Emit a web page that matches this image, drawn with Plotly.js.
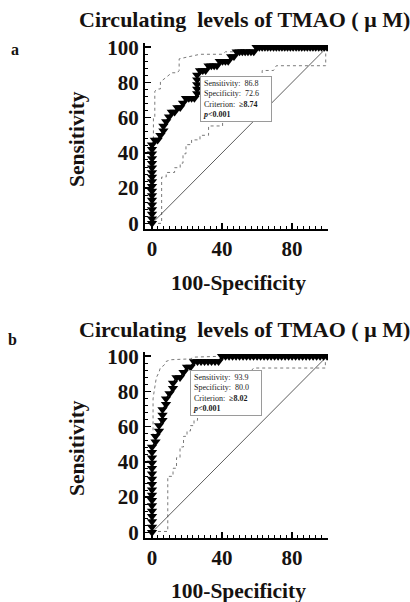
<!DOCTYPE html>
<html><head><meta charset="utf-8">
<script src="https://cdn.plot.ly/plotly-3.0.1.min.js"></script>
<style>html,body{margin:0;padding:0;background:#fff;}#chart{width:410px;height:602px;}</style>
</head><body><div id="chart"></div>
<script>
// ---------- Panel a data ----------
const aRocX = [0,0,0,0,0,0,0,0,0,0,0,0,0,0,0,0,0,0,
  1.6,3.2,4.8,6.5,6.5,8.1,9.7,11.3,12.9,14.5,16.1,17.7,19.4,21.0,22.6,24.2,
  25.8,25.8,25.8,25.8,25.8,
  27.4,29.0,30.6,32.3,33.9,35.5,37.1,38.7,40.3,41.9,43.5,45.2,46.8,48.4,50.0,51.6,53.2,54.8,56.5,58.1,59.7,
  61.3,62.9,64.5,66.1,67.7,69.4,71.0,72.6,74.2,75.8,77.4,79.0,80.6,82.3,83.9,85.5,87.1,88.7,90.3,91.9,93.5,95.2,96.8,98.4,100];
const aRocY = [0,2.6,5.3,7.9,10.5,13.2,15.8,18.4,21.1,23.7,26.3,28.9,31.6,34.2,36.8,39.5,42.1,44.7,
  47.4,47.4,50.0,52.6,55.3,57.9,60.5,63.2,63.2,65.8,65.8,68.4,71.1,71.1,71.1,71.1,
  73.7,76.3,78.9,81.6,84.2,
  86.8,86.8,86.8,89.5,89.5,89.5,89.5,92.1,92.1,92.1,92.1,94.7,94.7,97.4,97.4,97.4,97.4,97.4,97.4,97.4,100,
  100,100,100,100,100,100,100,100,100,100,100,100,100,100,100,100,100,100,100,100,100,100,100,100,100];
const aUpX = [0.8,0.8,1.6,1.6,3.2,4.8,4.8,8.1,9.7,11.3,14.5,15.5,15.5,24.2,27.4,40.3,41.9,48.4,50.0,58.1,59.7,100];
const aUpY = [0,60.5,60.5,75.0,76.3,76.3,80.3,82.9,84.2,85.5,85.5,86.8,93.4,95.0,96.0,96.0,97.4,97.4,98.7,98.7,100,100];
const aLoX = [0,5.5,5.5,8.1,8.1,12.9,12.9,16.1,16.1,17.7,17.7,19.4,19.4,22.6,22.6,27.4,27.4,32.3,32.3,40.3,40.3,43.5,51.6,56.5,62.9,62.9,69.4,71.0,99.2,99.2,100];
const aLoY = [0,0,26.3,26.3,28.9,28.9,31.6,31.6,34.2,34.2,39.5,39.5,44.7,44.7,47.4,47.4,50.0,50.0,55.3,55.3,60.5,60.5,71.1,76.3,81.6,86.8,86.8,89.5,89.5,97.4,100];
const aStats = {sens:'86.8', spec:'72.6', crit:'≥8.74', p:'0.001'};

// ---------- Panel b data ----------
const bRocX = [0,0,0,0,0,0,0,0,0,0,0,0,0,0,0,0,0,
  2,2,4,4,6,6,6,8,8,10,12,12,14,16,18,20,22,24,26,28,30,32,34,36,38,40,
  42,44,46,48,50,52,54,56,58,60,62,64,66,68,70,72,74,76,78,80,82,84,86,88,90,92,94,96,98,100];
const bRocY = [0,3.0,6.1,9.1,12.1,15.2,18.2,21.2,24.2,27.3,30.3,33.3,36.4,39.4,42.4,45.5,48.5,
  51.5,54.5,57.6,60.6,63.6,66.7,69.7,72.7,75.8,78.8,81.8,84.8,87.9,87.9,90.9,93.9,93.9,97.0,97.0,97.0,97.0,97.0,97.0,97.0,97.0,100,
  100,100,100,100,100,100,100,100,100,100,100,100,100,100,100,100,100,100,100,100,100,100,100,100,100,100,100,100,100,100];
const bUpX = [0.6,0.6,1.2,2.0,2.5,4.0,4.7,7.0,8.0,10.5,22.0,24.0,40.0,100];
const bUpY = [0,75.8,80.0,84.8,87.9,90.9,93.3,95.0,97.0,98.0,98.5,99.5,100,100];
const bLoX = [0,9.0,9.0,12.0,12.0,14.0,14.0,16.0,16.0,18.0,18.0,20.0,20.0,22.0,22.0,24.0,24.0,26.0,26.0,56.0,58.0,99.0,99.0,100];
const bLoY = [0.5,0.5,31.8,31.8,36.4,36.4,42.4,42.4,48.5,48.5,54.5,54.5,57.6,57.6,60.6,60.6,63.6,63.6,69.7,90.9,93.3,93.3,97.0,100];
const bStats = {sens:'93.9', spec:'80.0', crit:'≥8.02', p:'0.001'};

const diagX = [0,100], diagY = [0,100];

// ---------- tick labels / texts ----------
const xTickVals = [0,20,40,60,80,100];
const xTickText = ['0','','40','','80',''];
const yTickVals = [0,20,40,60,80,100];
const yTickText = ['0','20','40','60','80','100'];
const titleText = 'Circulating&nbsp; levels of TMAO ( μ M)';
const xTitle = '100-Specificity';
const yTitle = 'Sensitivity';
const panelLabels = ['a','b'];

// ---------- styling ----------
const W = 410, H = 602;
const serif = 'Liberation Serif';
const ink = '#161210';
function px(X){return X/W;}
function py(Y){return 1-Y/H;}

const xMinor = []; for(let v=0; v<=100.001; v+=20/6) xMinor.push(+v.toFixed(3));
const yMinor = []; for(let v=0; v<=100.001; v+=4) yMinor.push(v);

function axis(extra){
  return Object.assign({
    showline:true, linecolor:'#000', linewidth:2, showgrid:false, zeroline:false,
    ticks:'inside', ticklen:6, tickwidth:1.5, tickcolor:'#000',
    tickfont:{family:serif, size:21, weight:'bold', color:ink},
    fixedrange:true, tickmode:'array'
  }, extra);
}
const xMinorCfg = {ticks:'inside', ticklen:3, tickwidth:1, tickcolor:'#000', tickmode:'array', tickvals:xMinor};
const yMinorCfg = {ticks:'inside', ticklen:3, tickwidth:1, tickcolor:'#000', tickmode:'array', tickvals:yMinor};

const xDom = [px(145), px(328)];
const xRange = [-4, 100.5];
const yRange = [-3.2, 102.4];

function panelTraces(xa, ya, rx, ry, ux, uy, lx, ly){
  return [
    {x:ux, y:uy, xaxis:xa, yaxis:ya, mode:'lines', line:{color:'#7a7a7a', width:1, dash:'dot'}, hoverinfo:'skip'},
    {x:lx, y:ly, xaxis:xa, yaxis:ya, mode:'lines', line:{color:'#7a7a7a', width:1, dash:'dot'}, hoverinfo:'skip'},
    {x:diagX, y:diagY, xaxis:xa, yaxis:ya, mode:'lines', line:{color:'#333', width:0.8}, hoverinfo:'skip'},
    {x:rx, y:ry, xaxis:xa, yaxis:ya, mode:'lines+markers', line:{color:'#000', width:1.5},
     marker:{symbol:'triangle-down', size:9, color:'#000'}}
  ];
}

const data = [].concat(
  panelTraces('x','y', aRocX, aRocY, aUpX, aUpY, aLoX, aLoY),
  panelTraces('x2','y2', bRocX, bRocY, bUpX, bUpY, bLoX, bLoY)
);

function statText(s){
  return 'Sensitivity:&nbsp; '+s.sens+'<br>Specificity:&nbsp; '+s.spec+'<br>Criterion:&nbsp; <b>'+s.crit+'</b><br><b><i>p</i>&lt;'+s.p+'</b>';
}
function boxAnn(xr, yr, x, y, s){
  return {xref:xr, yref:yr, x:x, y:y, xanchor:'left', yanchor:'top', text:statText(s), align:'left',
    showarrow:false, bgcolor:'#fff', bordercolor:'#9a9a9a', borderwidth:1, borderpad:2, width:66,
    font:{family:serif, size:8, color:'#1a1a1a'}};
}
function txt(X, Y, text, size, extra){
  return Object.assign({xref:'paper', yref:'paper', x:px(X), y:py(Y), xanchor:'center', yanchor:'middle',
    text:text, showarrow:false, font:{family:serif, size:size, weight:'bold', color:ink}}, extra||{});
}

const off = 308;
const annotations = [
  txt(244, 20, titleText, 22), txt(244, 20+off+1, titleText, 22),
  txt(15, 50, panelLabels[0], 16), txt(12, 339, panelLabels[1], 16),
  txt(77, 139, yTitle, 21.5, {textangle:-90}), txt(77, 139+off+1, yTitle, 21.5, {textangle:-90}),
  txt(239, 283, xTitle, 21.5), txt(239, 283+off, xTitle, 21.5),
  boxAnn('x','y', 27.4, 83.8, aStats),
  boxAnn('x2','y2', 21.9, 92.4, bStats)
];

const layout = {
  width:W, height:H, margin:{l:0,r:0,t:0,b:0}, paper_bgcolor:'#fff', plot_bgcolor:'#fff',
  showlegend:false,
  xaxis: axis({domain:xDom, range:xRange, anchor:'y', tickvals:xTickVals, ticktext:xTickText, minor:xMinorCfg}),
  yaxis: axis({domain:[py(229), py(43)], range:yRange, anchor:'x', tickvals:yTickVals, ticktext:yTickText, minor:yMinorCfg}),
  xaxis2: axis({domain:xDom, range:xRange, anchor:'y2', tickvals:xTickVals, ticktext:xTickText, minor:xMinorCfg}),
  yaxis2: axis({domain:[py(538), py(352)], range:yRange, anchor:'x2', tickvals:yTickVals, ticktext:yTickText, minor:yMinorCfg}),
  annotations: annotations
};

Plotly.newPlot('chart', data, layout, {staticPlot:true, displayModeBar:false});
</script>
</body></html>
